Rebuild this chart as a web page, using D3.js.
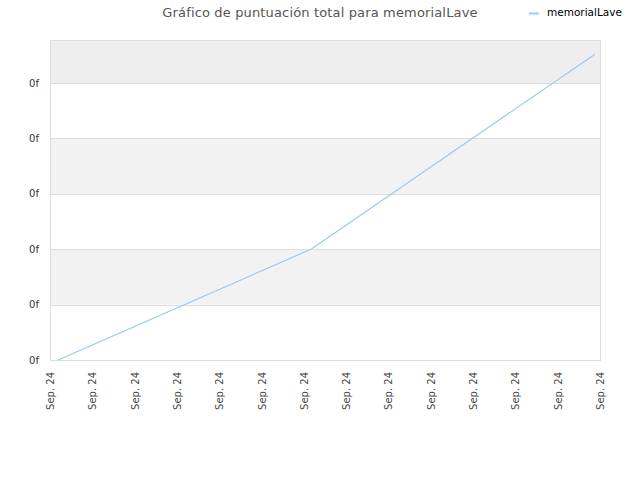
<!DOCTYPE html>
<html>
<head>
<meta charset="utf-8">
<script src="https://cdn.jsdelivr.net/npm/d3@7"></script>
<style>
  body { margin: 0; background: #fff; }
  text { font-family: "DejaVu Sans", sans-serif; }
</style>
</head>
<body>
<svg id="chart" width="640" height="480"></svg>
<script>
// data
var xTickLabels = ["Sep. 24","Sep. 24","Sep. 24","Sep. 24","Sep. 24","Sep. 24","Sep. 24",
                   "Sep. 24","Sep. 24","Sep. 24","Sep. 24","Sep. 24","Sep. 24","Sep. 24"];
var yTickValues = [0, 1, 2, 3, 4, 5];
var yTickLabels = ["0f","0f","0f","0f","0f","0f"];
var seriesX = [0.19, 6.17, 12.88];
var seriesY = [0, 2, 5.52];
var seriesName = "memorialLave";
var title = "Gráfico de puntuación total para memorialLave";

var plotLeft = 50, plotRight = 600, plotTop = 40, plotBottom = 360;
var svg = d3.select("#chart");

var x = d3.scaleLinear().domain([0, xTickLabels.length - 1]).range([plotLeft, plotRight]);
var y = d3.scaleLinear().domain([0, 5.776]).range([plotBottom, plotTop]);

// background bands
var bandEdges = yTickValues.concat([y.domain()[1]]);
for (var i = 0; i < bandEdges.length - 1; i++) {
  var fill = i % 2 == 1 ? "#f2f2f2" : "#ffffff";
  if (i == bandEdges.length - 2) fill = "#eeeeee";
  svg.append("rect")
    .attr("x", plotLeft)
    .attr("y", y(bandEdges[i + 1]))
    .attr("width", plotRight - plotLeft)
    .attr("height", y(bandEdges[i]) - y(bandEdges[i + 1]))
    .attr("fill", fill);
}

// gridlines
svg.selectAll(".grid")
  .data(yTickValues)
  .enter()
  .append("line")
  .attr("x1", plotLeft).attr("x2", plotRight)
  .attr("y1", function (d) { return Math.round(y(d)) + 0.5; })
  .attr("y2", function (d) { return Math.round(y(d)) + 0.5; })
  .attr("stroke", "#dddddd")
  .attr("stroke-width", 1);

// frame
svg.append("rect")
  .attr("x", plotLeft + 0.5).attr("y", plotTop + 0.5)
  .attr("width", plotRight - plotLeft).attr("height", plotBottom - plotTop)
  .attr("fill", "none")
  .attr("stroke", "#dddddd");

// y axis labels
var yAxis = d3.axisLeft(y)
  .tickValues(yTickValues)
  .tickSize(0)
  .tickPadding(11)
  .tickFormat(function (d, i) { return yTickLabels[i]; });
var yg = svg.append("g").attr("transform", "translate(" + plotLeft + ",0)").call(yAxis);
yg.select(".domain").remove();
yg.selectAll("text")
  .style("font-size", "10px")
  .style("font-family", "\"DejaVu Sans\", sans-serif")
  .attr("fill", "#333");

// x axis labels
var xAxis = d3.axisBottom(x)
  .tickValues(d3.range(xTickLabels.length))
  .tickSize(0)
  .tickFormat(function (d, i) { return xTickLabels[i]; });
var xg = svg.append("g").attr("transform", "translate(0," + plotBottom + ")").call(xAxis);
xg.select(".domain").remove();
xg.selectAll("text")
  .style("font-size", "10px")
  .style("font-family", "\"DejaVu Sans\", sans-serif")
  .attr("fill", "#444")
  .attr("text-anchor", "end")
  .attr("dy", "0.35em")
  .attr("y", 0)
  .attr("transform", "translate(0,12) rotate(-90)");

// series line
var points = seriesX.map(function (d, i) { return [d, seriesY[i]]; });
var line = d3.line()
  .x(function (d) { return x(d[0]); })
  .y(function (d) { return y(d[1]); });
svg.append("path")
  .datum(points)
  .attr("d", line)
  .attr("fill", "none")
  .attr("stroke", "#99c9f5")
  .attr("stroke-width", 1.2);

// title
svg.append("text")
  .attr("x", 320).attr("y", 17)
  .attr("text-anchor", "middle")
  .style("font-size", "13px")
  .style("letter-spacing", "0.15px")
  .attr("fill", "#555")
  .text(title);

// legend
svg.append("line")
  .attr("x1", 529).attr("x2", 539)
  .attr("y1", 13.5).attr("y2", 13.5)
  .attr("stroke", "#99c9f5")
  .attr("stroke-width", 2);
svg.append("text")
  .attr("x", 547).attr("y", 16)
  .style("font-size", "10.5px")
  .attr("fill", "#000")
  .text(seriesName);
</script>
</body>
</html>
